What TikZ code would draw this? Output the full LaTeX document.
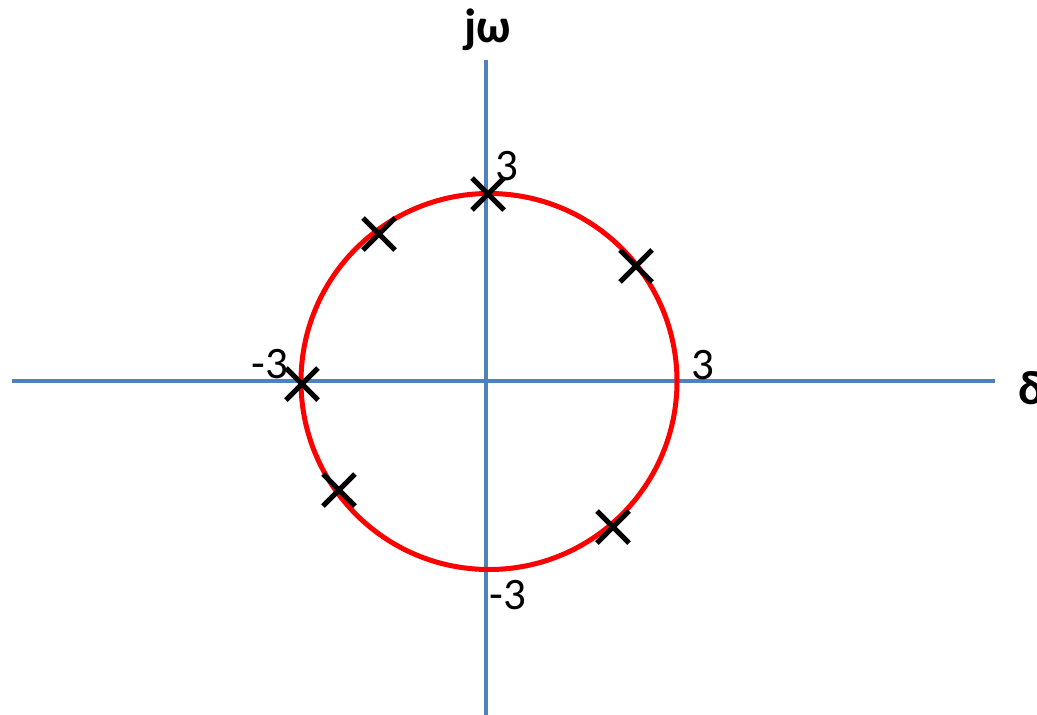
\documentclass[tikz,border=0pt]{standalone}
\usepackage{fontspec}
\setmainfont{Carlito}
\usetikzlibrary{shapes.misc}
\definecolor{axisblue}{HTML}{4F81BD}
\definecolor{circred}{HTML}{FF0000}
\tikzset{
  axisline/.style={draw=axisblue, line width=3.5pt},
  ringnode/.style={circle, draw=circred, line width=5pt, inner sep=0pt, minimum size=376pt},
  polemark/.style={cross out, draw=black, line width=5pt, inner sep=0pt, minimum size=27pt},
  ticklabel/.style={inner sep=0pt, font=\fontsize{45}{54}\selectfont},
  axislabel/.style={inner sep=0pt, font=\fontsize{48}{58}\selectfont\bfseries}
}
\begin{document}
\begin{tikzpicture}[x=1pt,y=-1pt]
\useasboundingbox (0,0) rectangle (1037,715);
\coordinate (xl) at (12,381);
\coordinate (xr) at (995,381);
\coordinate (yt) at (486,60);
\coordinate (yb) at (486,715);
\draw[axisline] (xl) -- (xr);
\draw[axisline] (yt) -- (yb);
\node[ringnode] (ring) at (489,381.5) {};
\node[polemark] (p1) at (488,194) {};
\node[polemark] (p2) at (379,234) {};
\node[polemark] (p3) at (636,266) {};
\node[polemark] (p4) at (302,384) {};
\node[polemark] (p5) at (339,490) {};
\node[polemark] (p6) at (613,527) {};
\node[ticklabel] (ltop) at (507,166) {3};
\node[ticklabel] (lright) at (703,365) {3};
\node[ticklabel] (lleft) at (270,364) {-3};
\node[ticklabel] (lbot) at (508,595) {-3};
\node[axislabel] (jw) at (488,30) {jω};
\node[axislabel, anchor=west] (dl) at (1018,388) {δ};
\end{tikzpicture}
\end{document}
